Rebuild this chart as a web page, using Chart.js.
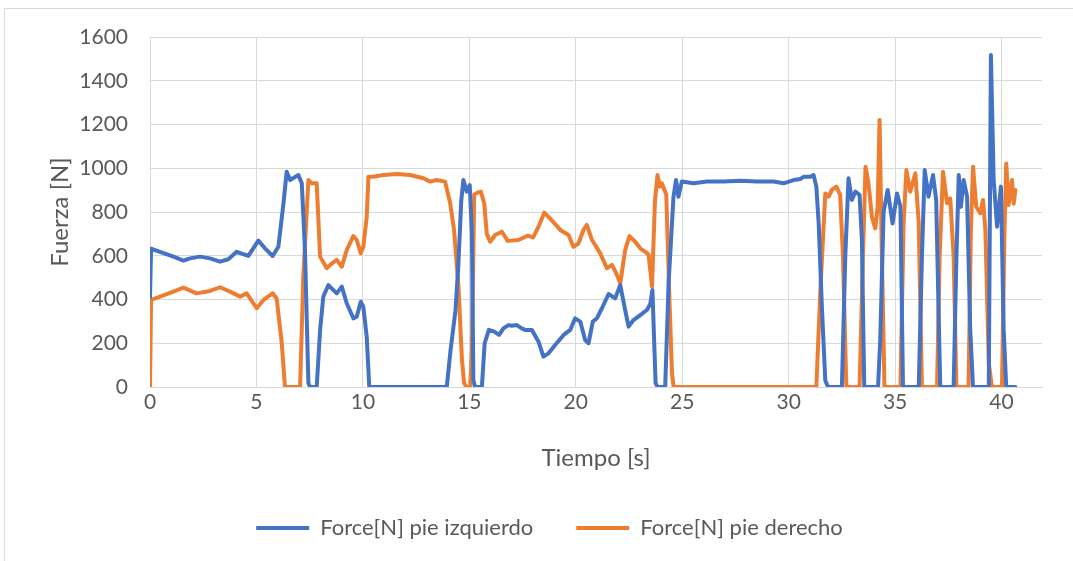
<!DOCTYPE html>
<html><head><meta charset="utf-8">
<script src="https://cdn.jsdelivr.net/npm/chart.js@4.4.1/dist/chart.umd.min.js"></script>
<style>html,body{margin:0;padding:0;background:#fff}#wrap{width:1073px;height:561px;position:relative}</style>
</head><body><div id="wrap"><canvas id="c" width="1073" height="561"></canvas></div>
<script>
// Series names
const seriesNames = ['Force[N] pie izquierdo', 'Force[N] pie derecho'];
// Tick values
const xTickValues = [0, 5, 10, 15, 20, 25, 30, 35, 40];
const yTickValues = [0, 200, 400, 600, 800, 1000, 1200, 1400, 1600];
// Left foot (blue): time [s] and force [N]
const tLeft = [0, 0.05, 0.47, 1.10, 1.57, 1.88, 2.35, 2.82, 3.29, 3.68,
  4.07, 4.62, 5.09, 5.40, 5.76, 6.03, 6.27, 6.42, 6.58, 6.97,
  7.13, 7.28, 7.44, 7.52, 7.83, 7.99, 8.14, 8.38, 8.77, 9.01,
  9.24, 9.55, 9.71, 9.90, 10.02, 10.18, 10.30, 13.94, 14.12, 14.35,
  14.48, 14.62, 14.72, 14.88, 15.02, 15.12, 15.19, 15.27, 15.59, 15.72,
  15.92, 16.17, 16.40, 16.60, 16.84, 17.00, 17.23, 17.46, 17.62, 17.94,
  18.25, 18.48, 18.72, 19.03, 19.43, 19.74, 19.97, 20.21, 20.44, 20.60,
  20.80, 20.99, 21.23, 21.54, 21.85, 22.09, 22.32, 22.48, 22.71, 23.03,
  23.34, 23.50, 23.60, 23.75, 23.85, 24.20, 24.36, 24.59, 24.71, 24.82,
  24.98, 25.53, 26.16, 26.94, 27.73, 28.51, 29.29, 29.76, 30.23, 30.55,
  30.70, 31.02, 31.17, 31.30, 31.41, 31.56, 31.72, 31.85, 32.50, 32.66,
  32.81, 32.97, 33.13, 33.33, 33.44, 33.55, 34.20, 34.30, 34.46, 34.65,
  34.88, 35.09, 35.25, 35.37, 36.11, 36.26, 36.39, 36.57, 36.78, 36.93,
  37.12, 37.75, 37.88, 37.99, 38.09, 38.22, 38.38, 38.53, 38.66, 39.40,
  39.50, 39.63, 39.79, 39.97, 40.10, 40.22, 40.65];
const fLeft = [410, 632, 618, 596, 578, 588, 596, 588, 573, 584,
  618, 599, 669, 634, 599, 641, 840, 984, 946, 969,
  931, 626, 17, 0, 0, 260, 413, 466, 428, 459,
  383, 314, 321, 390, 367, 230, 0, 0, 170, 350,
  550, 850, 946, 893, 923, 700, 32, 0, 0, 200,
  261, 253, 238, 268, 283, 280, 283, 268, 261, 261,
  207, 139, 154, 192, 238, 261, 314, 299, 215, 200,
  299, 314, 360, 425, 405, 466, 352, 276, 306, 329,
  352, 380, 443, 17, 0, 0, 474, 870, 946, 870,
  939, 931, 939, 939, 943, 939, 939, 931, 946, 951,
  961, 961, 969, 916, 748, 367, 30, 0, 0, 596,
  954, 855, 893, 878, 672, 0, 0, 215, 800, 901,
  748, 885, 824, 0, 0, 596, 992, 870, 969, 855,
  0, 0, 596, 969, 824, 946, 870, 261, 0, 0,
  1518, 946, 733, 916, 261, 0, 0];
// Right foot (orange): time [s] and force [N]
const tRight = [0, 0.05, 0.47, 1.10, 1.57, 2.19, 2.82, 3.29, 3.76, 4.23,
  4.54, 5.01, 5.33, 5.76, 5.95, 6.19, 6.34, 7.05, 7.20, 7.44,
  7.60, 7.83, 7.99, 8.30, 8.46, 8.77, 9.01, 9.24, 9.55, 9.71,
  9.90, 10.02, 10.18, 10.26, 10.49, 10.96, 11.59, 12.22, 12.84, 13.16,
  13.47, 13.86, 14.10, 14.28, 14.49, 14.65, 14.75, 14.85, 15.04, 15.12,
  15.23, 15.43, 15.54, 15.70, 15.82, 15.98, 16.21, 16.53, 16.80, 17.30,
  17.75, 18.00, 18.25, 18.52, 18.79, 19.27, 19.66, 19.89, 20.13, 20.36,
  20.52, 20.76, 20.91, 21.15, 21.46, 21.70, 21.90, 22.09, 22.32, 22.52,
  22.79, 23.03, 23.26, 23.42, 23.58, 23.72, 23.84, 23.95, 24.04, 24.25,
  24.40, 24.52, 24.60, 31.30, 31.49, 31.72, 31.88, 32.03, 32.24, 32.42,
  32.55, 32.71, 33.33, 33.49, 33.61, 33.75, 33.91, 34.07, 34.18, 34.27,
  34.38, 34.50, 35.25, 35.40, 35.53, 35.71, 35.95, 36.11, 36.26, 36.97,
  37.09, 37.25, 37.44, 37.59, 37.75, 37.88, 38.45, 38.56, 38.66, 38.81,
  39.00, 39.13, 39.24, 39.40, 39.55, 40.02, 40.14, 40.22, 40.33, 40.49,
  40.57, 40.65];
const fRight = [0, 398, 413, 436, 454, 428, 439, 456, 436, 413,
  428, 360, 398, 428, 405, 200, 0, 0, 504, 946,
  931, 931, 596, 543, 558, 581, 550, 626, 690, 672,
  611, 641, 778, 961, 961, 969, 974, 969, 954, 939,
  946, 939, 840, 720, 460, 130, 20, 0, 0, 170,
  880, 890, 893, 840, 700, 664, 695, 710, 668, 672,
  692, 684, 733, 797, 771, 718, 695, 641, 657, 718,
  741, 672, 649, 611, 543, 558, 520, 474, 626, 690,
  664, 634, 618, 605, 459, 850, 969, 916, 931, 880,
  400, 60, 0, 0, 443, 885, 870, 901, 916, 878,
  596, 0, 0, 596, 1007, 931, 778, 725, 824, 1221,
  596, 0, 0, 748, 992, 893, 977, 748, 0, 0,
  596, 984, 840, 862, 596, 0, 0, 718, 1007, 824,
  794, 855, 718, 107, 0, 0, 718, 1022, 832, 946,
  838, 901];

const textColor = '#595959';
const gridColor = '#d9d9d9';
Chart.defaults.font.family = 'Lato, "Open Sans", sans-serif';
Chart.defaults.color = textColor;

const frame = {
  id: 'frame',
  beforeDraw(chart) {
    const c = chart.ctx;
    c.save();
    c.fillStyle = '#ffffff';
    c.fillRect(0, 0, chart.width, chart.height);
    c.strokeStyle = '#d9d9d9';
    c.lineWidth = 1;
    c.strokeRect(4.5, 8.5, 1100, 600);
    c.restore();
  }
};

new Chart(document.getElementById('c'), {
  type: 'line',
  data: {
    datasets: [
      { label: seriesNames[0], data: tLeft.map((t, i) => ({ x: t, y: fLeft[i] })),
        borderColor: '#4472C4', backgroundColor: '#4472C4', borderWidth: 4, pointRadius: 0,
        tension: 0, borderJoinStyle: 'round', borderCapStyle: 'round', xAxisID: 'x', yAxisID: 'y' },
      { label: seriesNames[1], data: tRight.map((t, i) => ({ x: t, y: fRight[i] })),
        borderColor: '#ED7D31', backgroundColor: '#ED7D31', borderWidth: 4, pointRadius: 0,
        tension: 0, borderJoinStyle: 'round', borderCapStyle: 'round', xAxisID: 'x', yAxisID: 'y' }
    ]
  },
  options: {
    responsive: false, animation: false, devicePixelRatio: 1,
    layout: { padding: { left: 26, right: 0, top: 37, bottom: 12 } },
    plugins: {
      legend: { position: 'bottom',
        labels: { usePointStyle: true, pointStyle: 'line', pointStyleWidth: 53, padding: 43,
          color: textColor, font: { size: 22 } } },
      tooltip: { enabled: false }
    },
    scales: {
      x: { type: 'linear', min: 0, max: 41.9,
        afterBuildTicks: s => { s.ticks = xTickValues.map(v => ({ value: v })); },
        ticks: { padding: 3, color: textColor, font: { size: 21 }, maxRotation: 0, callback: v => String(v) },
        grid: { color: gridColor, drawTicks: false, lineWidth: 1 },
        border: { color: gridColor },
        title: { display: true, text: 'Tiempo [s]', color: textColor, font: { size: 24 }, padding: { top: 0, bottom: 1 } },
        afterFit: s => { s.height = 87; } },
      y: { type: 'linear', min: 0, max: 1600,
        afterBuildTicks: s => { s.ticks = yTickValues.map(v => ({ value: v })); },
        ticks: { padding: 22, color: textColor, font: { size: 21 }, callback: v => String(v) },
        grid: { color: gridColor, drawTicks: false, lineWidth: 1 },
        border: { display: false },
        title: { display: true, text: 'Fuerza [N]', color: textColor, font: { size: 24 }, padding: { top: 20, bottom: 0 } },
        afterFit: s => { s.width = 124; } },
      yr: { type: 'linear', position: 'right', display: true, min: 0, max: 1,
        grid: { display: false }, ticks: { display: false }, border: { display: false },
        afterFit: s => { s.width = 31; } }
    }
  },
  plugins: [frame]
});
</script></body></html>
